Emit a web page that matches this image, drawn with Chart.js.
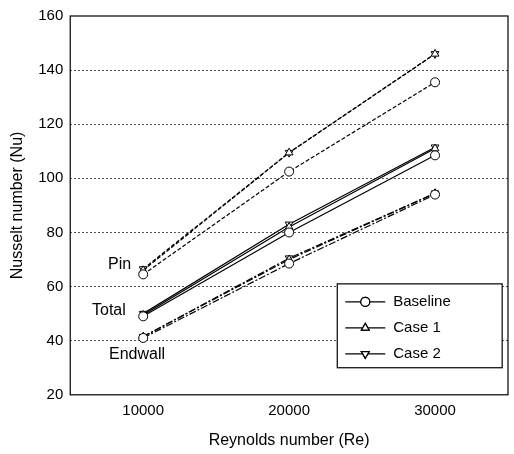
<!DOCTYPE html>
<html>
<head>
<meta charset="utf-8">
<script src="https://cdn.jsdelivr.net/npm/chart.js@4"></script>
<style>
  html, body { margin: 0; padding: 0; background: #fff; }
  #wrap { width: 514px; height: 454px; }
</style>
</head>
<body>
<div id="wrap"><canvas id="nuChart"></canvas></div>
<script>
// Reynolds numbers
const reynolds = [10000, 20000, 30000];

// Pin (dashed)
const pinBaseline = [64.5, 102.5, 135.5];
const pinCase1 = [66, 109.5, 146];
const pinCase2 = [66.5, 109.5, 146];

// Total (solid)
const totalBaseline = [49, 80, 108.5];
const totalCase1 = [49.5, 82, 111];
const totalCase2 = [50, 83, 111.5];

// Endwall (dash-dot)
const endBaseline = [41, 68.5, 94];
const endCase1 = [41.5, 70, 94.5];
const endCase2 = [41.5, 70.5, 94.5];

const yTicks = [20, 40, 60, 80, 100, 120, 140, 160];
const xTicks = [10000, 20000, 30000];

const markers = [
    { name: 'Baseline', style: 'circle', rot: 0 },
    { name: 'Case 1', style: 'triangle', rot: 0 },
    { name: 'Case 2', style: 'triangle', rot: 180 }
];

const FONT = 'Arial, "Liberation Sans", sans-serif';

function series(values, m, dash) {
    return {
        label: m.name,
        data: reynolds.map((x, i) => ({ x: x, y: values[i] })),
        borderColor: '#000',
        borderWidth: 1.2,
        borderDash: dash,
        pointStyle: m.style,
        pointRotation: m.rot,
        pointRadius: 4.5,
        pointBackgroundColor: '#fff',
        pointBorderColor: '#000',
        pointBorderWidth: 1,
        fill: false
    };
}

const dashes = [4, 2];
const dashDot = [7, 2, 2, 2];
const datasets = [
    series(pinBaseline, markers[0], dashes),
    series(pinCase1, markers[1], dashes),
    series(pinCase2, markers[2], dashes),
    series(totalBaseline, markers[0], []),
    series(totalCase1, markers[1], []),
    series(totalCase2, markers[2], []),
    series(endBaseline, markers[0], dashDot),
    series(endCase1, markers[1], dashDot),
    series(endCase2, markers[2], dashDot)
];

// Group labels, frame and custom legend
const extras = {
    id: 'extras',
    afterDraw(chart) {
        const ctx = chart.ctx;
        const a = chart.chartArea;
        const xs = chart.scales.x, ys = chart.scales.y;
        ctx.save();
        ctx.strokeStyle = '#000';
        ctx.lineWidth = 1.2;
        ctx.strokeRect(a.left, a.top, a.right - a.left, a.bottom - a.top);

        ctx.fillStyle = '#000';
        ctx.font = '16px ' + FONT;
        ctx.textBaseline = 'middle';
        ctx.fillText('Pin', 108, ys.getPixelForValue(68));
        ctx.fillText('Total', 92, ys.getPixelForValue(51));
        ctx.fillText('Endwall', 109, ys.getPixelForValue(35));

        // legend box
        const bx = xs.getPixelForValue(23300), by = ys.getPixelForValue(61);
        const bw = xs.getPixelForValue(34600) - bx, bh = ys.getPixelForValue(30) - by;
        ctx.fillStyle = '#fff';
        ctx.fillRect(bx, by, bw, bh);
        ctx.strokeRect(bx, by, bw, bh);
        ctx.font = '15px ' + FONT;
        markers.forEach((m, i) => {
            const y = by + 18 + i * 26;
            ctx.beginPath();
            ctx.moveTo(bx + 8, y);
            ctx.lineTo(bx + 48, y);
            ctx.lineWidth = 1.2;
            ctx.stroke();
            Chart.helpers.drawPoint(ctx, { pointStyle: m.style, rotation: m.rot, radius: 4.5, borderWidth: 1 }, bx + 28, y);
            ctx.fillStyle = '#fff';
            ctx.fill();
            ctx.stroke();
            ctx.fillStyle = '#000';
            ctx.fillText(m.name, bx + 56, y);
        });
        ctx.restore();
    }
};

new Chart(document.getElementById('nuChart'), {
    type: 'line',
    data: { datasets: datasets },
    options: {
        responsive: true,
        maintainAspectRatio: false,
        animation: false,
        layout: { padding: { left: 4, right: 6, top: 6, bottom: 4 } },
        plugins: { legend: { display: false }, tooltip: { enabled: false } },
        scales: {
            x: {
                type: 'linear',
                min: 5000, max: 35000,
                afterBuildTicks: s => { s.ticks = xTicks.map(v => ({ value: v })); },
                grid: { display: false, drawTicks: false },
                border: { display: false },
                ticks: { color: '#000', padding: 7, font: { size: 15, family: FONT }, callback: v => String(v) },
                title: { display: true, text: 'Reynolds number (Re)', color: '#000', padding: { top: 4, bottom: 0 }, font: { size: 16, family: FONT } }
            },
            y: {
                min: 20, max: 160,
                afterBuildTicks: s => { s.ticks = yTicks.map(v => ({ value: v })); },
                grid: {
                    color: ctx => (ctx.tick && (ctx.tick.value === 20 || ctx.tick.value === 160)) ? 'rgba(0,0,0,0)' : '#555',
                    borderDash: [2, 2], lineWidth: 1, drawTicks: false
                },
                border: { display: false, dash: [2, 2] },
                ticks: { color: '#000', padding: 7, font: { size: 15, family: FONT } },
                title: { display: true, text: 'Nusselt number (Nu)', color: '#000', font: { size: 16, family: FONT } }
            }
        }
    },
    plugins: [extras]
});
</script>
</body>
</html>
